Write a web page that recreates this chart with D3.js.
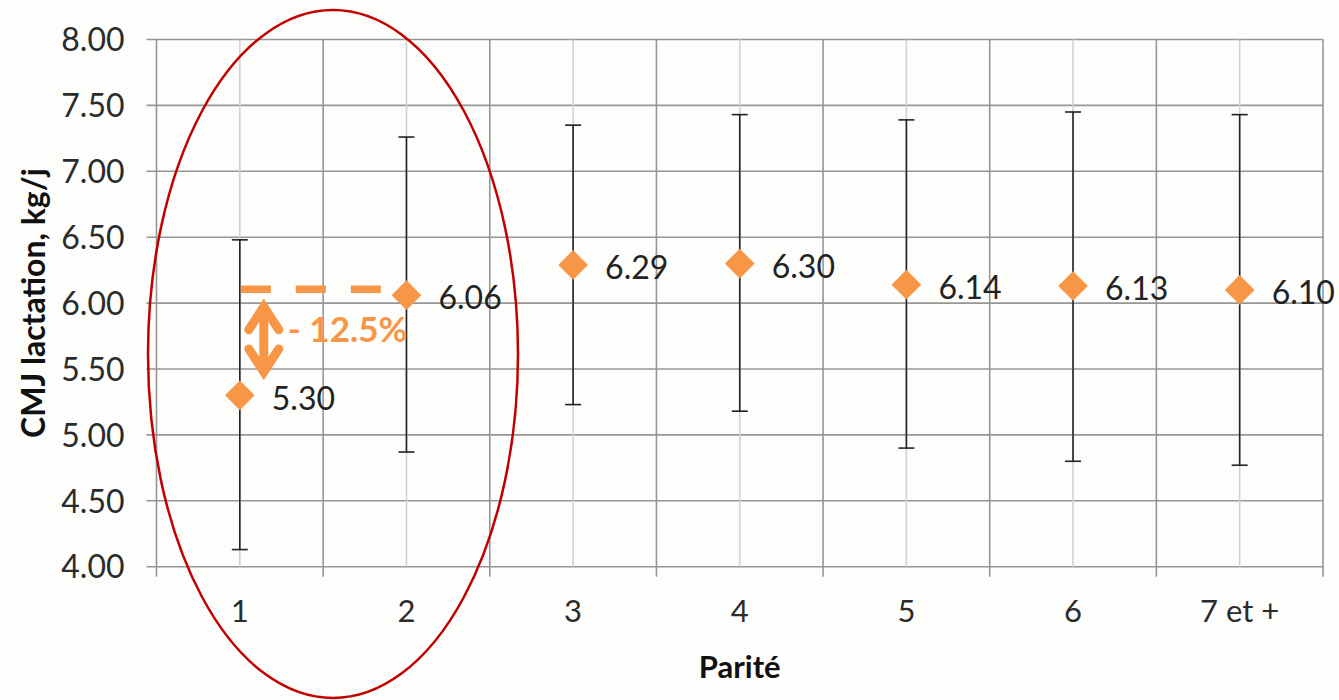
<!DOCTYPE html>
<html>
<head>
<meta charset="utf-8">
<script src="https://cdn.jsdelivr.net/npm/d3@7"></script>
<style>
  html, body { margin: 0; padding: 0; background: #fdfdfb; }
  svg { display: block; }
  text { font-family: Lato, "Open Sans", sans-serif; }
</style>
</head>
<body>
<svg id="chart" width="1339" height="700"></svg>
<script>
// ---- data ----
const categories = ["1", "2", "3", "4", "5", "6", "7 et +"];
const means      = [5.30, 6.06, 6.29, 6.30, 6.14, 6.13, 6.10];
const errHigh    = [6.48, 7.26, 7.35, 7.43, 7.39, 7.45, 7.43];
const errLow     = [4.13, 4.87, 5.23, 5.18, 4.90, 4.80, 4.77];
const yTicks     = [4.0, 4.5, 5.0, 5.5, 6.0, 6.5, 7.0, 7.5, 8.0];
const yTitle = "CMJ lactation, kg/j";
const xTitle = "Parité";
const annotationText = "- 12.5%";
const annotationLevel = 6.105;   // dashed reference line level
const arrowRange = [5.44, 6.01]; // double arrow extent (values)

(function () {
// ---- layout ----
const svg = d3.select("#chart");
const pL = 156.5, pR = 1323, pT = 39.5, pB = 566.7;
const orange = "#F79646";

const x = d3.scaleBand().domain(categories).range([pL, pR]).paddingInner(0).paddingOuter(0);
const bw = x.bandwidth();
const cx = c => x(c) + bw / 2;
const y = d3.scaleLinear().domain([4, 8]).range([pB, pT]);

// horizontal gridlines (with outer tick to the left)
svg.append("g").selectAll("line").data(yTicks).join("line")
  .attr("x1", pL - 10).attr("x2", pR)
  .attr("y1", d => y(d)).attr("y2", d => y(d))
  .attr("stroke", "#969696").attr("stroke-width", 1.6);

// vertical lines at category centres (light)
svg.append("g").selectAll("line").data(categories).join("line")
  .attr("x1", d => cx(d)).attr("x2", d => cx(d))
  .attr("y1", pT).attr("y2", pB)
  .attr("stroke", "#d2d2d2").attr("stroke-width", 1.6);

// vertical lines at category boundaries (darker) + ticks below
const bounds = categories.map(c => x(c)).concat([pR]);
svg.append("g").selectAll("line").data(bounds).join("line")
  .attr("x1", d => d).attr("x2", d => d)
  .attr("y1", pT).attr("y2", pB + 10)
  .attr("stroke", "#969696").attr("stroke-width", 1.6);

// y axis labels
const yAxis = d3.axisLeft(y).tickValues(yTicks).tickFormat(d3.format(".2f")).tickSize(0).tickPadding(0);
const gy = svg.append("g").attr("transform", `translate(${pL - 32},0)`).call(yAxis);
gy.select(".domain").remove();
gy.selectAll("text").attr("font-size", 32).attr("fill", "#2b2b2b").attr("font-family", "Lato, sans-serif")
  .attr("dy", "0.35em");

// x axis labels
const xAxis = d3.axisBottom(x).tickSize(0).tickPadding(0);
const gx = svg.append("g").attr("transform", `translate(0,${pB + 33})`).call(xAxis);
gx.select(".domain").remove();
gx.selectAll("text").attr("font-size", 31).attr("fill", "#2b2b2b").attr("font-family", "Lato, sans-serif")
  .attr("dy", "0.71em").attr("y", 0);

// axis titles
svg.append("text").attr("x", (pL + pR) / 2).attr("y", 667).attr("dy", "0.35em")
  .attr("text-anchor", "middle").attr("font-size", 31).attr("font-weight", "bold").attr("fill", "#111")
  .text(xTitle);
svg.append("text").attr("transform", `translate(34,${(pT + pB) / 2}) rotate(-90)`)
  .attr("dy", "0.35em").attr("text-anchor", "middle").attr("font-size", 32).attr("font-weight", "bold").attr("fill", "#111")
  .text(yTitle);

// error bars
const eb = svg.append("g").attr("stroke", "#222").attr("stroke-width", 1.6);
categories.forEach((c, i) => {
  eb.append("line").attr("x1", cx(c)).attr("x2", cx(c)).attr("y1", y(errHigh[i])).attr("y2", y(errLow[i]));
  eb.append("line").attr("x1", cx(c) - 8).attr("x2", cx(c) + 8).attr("y1", y(errHigh[i])).attr("y2", y(errHigh[i]));
  eb.append("line").attr("x1", cx(c) - 8).attr("x2", cx(c) + 8).attr("y1", y(errLow[i])).attr("y2", y(errLow[i]));
});

// diamonds
const sym = d3.symbol().type(d3.symbolSquare).size(440);
svg.append("g").selectAll("path").data(categories).join("path")
  .attr("d", sym)
  .attr("transform", (c, i) => `translate(${cx(c)},${y(means[i])}) rotate(45)`)
  .attr("fill", orange);

// data labels
svg.append("g").selectAll("text").data(categories).join("text")
  .attr("x", c => cx(c) + 32)
  .attr("y", (c, i) => y(means[i]) + 3)
  .attr("dy", "0.35em")
  .attr("font-size", 32).attr("fill", "#222")
  .text((c, i) => d3.format(".2f")(means[i]));

// annotation: dashed line
svg.append("line")
  .attr("x1", cx(categories[0]) + 1).attr("x2", cx(categories[1]) - 19)
  .attr("y1", y(annotationLevel)).attr("y2", y(annotationLevel))
  .attr("stroke", orange).attr("stroke-width", 7.5)
  .attr("stroke-dasharray", "30,25");

// double arrow
const ax = cx(categories[0]) + 24;
const aTop = y(arrowRange[1]), aBot = y(arrowRange[0]);
const ag = svg.append("g").attr("stroke", orange).attr("stroke-width", 9).attr("fill", "none")
  .attr("stroke-linecap", "round").attr("stroke-linejoin", "miter");
ag.append("line").attr("x1", ax).attr("x2", ax).attr("y1", aTop + 6).attr("y2", aBot - 6);
ag.append("path").attr("d", `M${ax - 15},${aTop + 28} L${ax},${aTop + 5} L${ax + 15},${aTop + 28}`);
ag.append("path").attr("d", `M${ax - 15},${aBot - 28} L${ax},${aBot - 5} L${ax + 15},${aBot - 28}`);

svg.append("text").attr("x", ax + 24).attr("y", 330).attr("dy", "0.35em")
  .attr("font-size", 35).attr("font-weight", "bold").attr("fill", orange)
  .text(annotationText);

// red ellipse
svg.append("ellipse")
  .attr("cx", 333).attr("cy", 354).attr("rx", 185).attr("ry", 344)
  .attr("fill", "none").attr("stroke", "#C00000").attr("stroke-width", 2.5);
})();
</script>
</body>
</html>
